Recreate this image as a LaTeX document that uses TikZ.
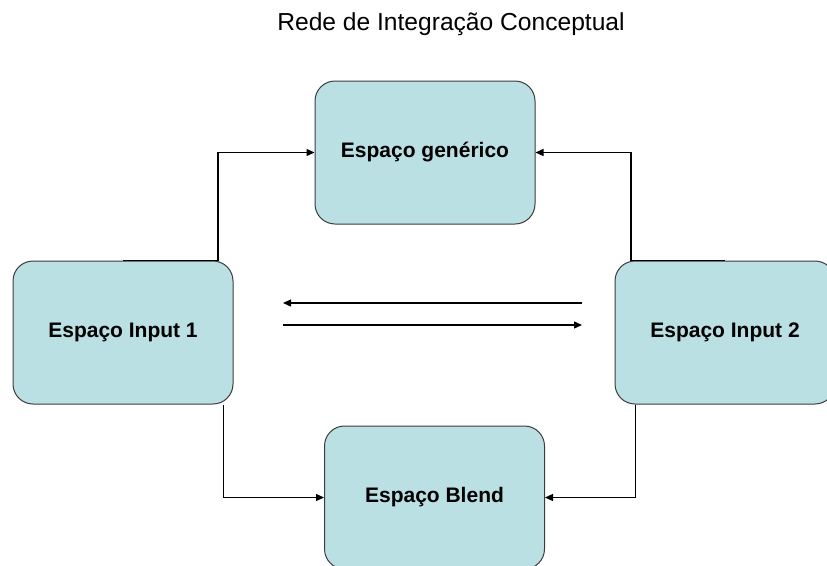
\documentclass[tikz,border=0pt]{standalone}
\usepackage{fontspec}
\setmainfont{Liberation Sans}
\usetikzlibrary{arrows.meta,calc}
\definecolor{boxfill}{RGB}{186,224,228}
\definecolor{boxline}{RGB}{60,60,60}
\tikzset{
  space/.style={draw=boxline, line width=1pt, fill=boxfill, rounded corners=20pt,
    minimum width=220pt, minimum height=143pt, inner sep=0pt,
    text height=13pt, text depth=4pt,
    font=\fontsize{21}{24}\selectfont\bfseries},
  conn/.style={draw=black, line width=1.3pt, -{Triangle[length=8pt,width=7pt]}}
}
\begin{document}
\begin{tikzpicture}[x=1pt,y=-1pt]
\useasboundingbox (0,0) rectangle (827,565);
\clip (0,0) rectangle (827,565);
\node[font=\fontsize{24.6}{28}\selectfont] (title) at (451,24) {Rede de Integração Conceptual};
\node[space] (gen) at (425,152.5) {Espaço genérico};
\node[space] (in1) at (123,332.5) {Espaço Input 1};
\node[space] (in2) at (725,332.5) {Espaço Input 2};
\node[space] (blend) at (434.5,497.5) {Espaço Blend};
\coordinate (a1) at (582,303);
\coordinate (a2) at (283,303);
\coordinate (b1) at (283,325);
\coordinate (b2) at (582,325);
\draw[conn] (in1.north) -- ++(95,0) |- (gen.west);
\draw[conn] (in2.north) -- ++(-94,0) |- (gen.east);
\draw[conn] ($(in1.south east)+(-10,0)$) |- (blend.west);
\draw[conn] ($(in2.south west)+(21,0)$) |- (blend.east);
\draw[conn] (a1) -- (a2);
\draw[conn] (b1) -- (b2);
\end{tikzpicture}
\end{document}
